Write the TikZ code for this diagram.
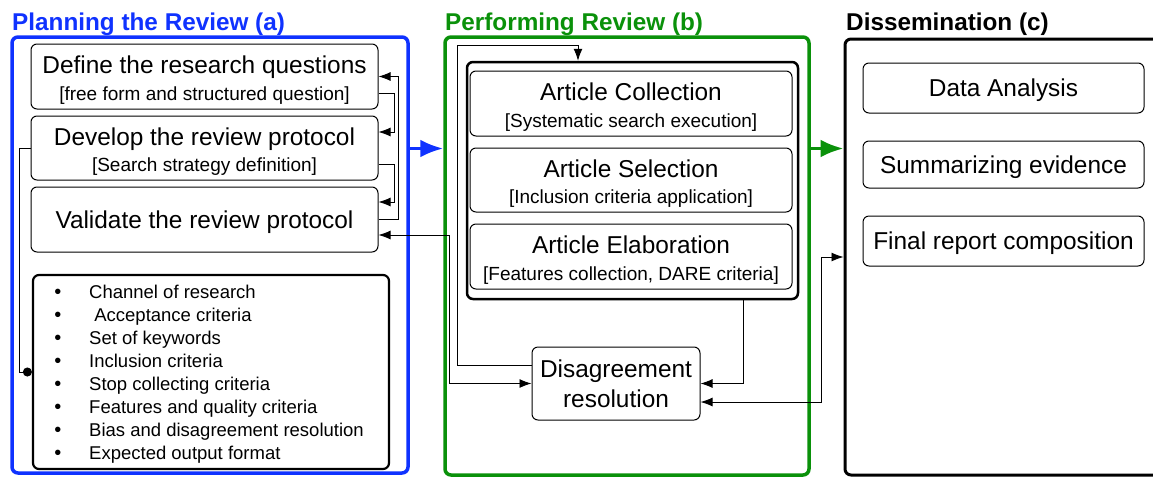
\documentclass[tikz,border=0pt]{standalone}
\usepackage{fontspec}
\setmainfont{Liberation Sans}
\usetikzlibrary{arrows.meta,calc}

\definecolor{planblue}{RGB}{15,50,255}
\definecolor{perfgreen}{RGB}{10,145,10}
\newcommand{\subline}[1]{{\fontsize{19}{22}\selectfont #1}}

\begin{document}
\begin{tikzpicture}
	[x=1pt,y=-1pt,>={Latex[length=12pt,width=9pt]},
	 every node/.style={inner sep=0pt,align=center,font=\fontsize{24.4}{26.5}\selectfont},
	 phase/.style={draw,rounded corners=6pt,line width=3.5pt},
	 stepbox/.style={draw,rounded corners=6pt,line width=1pt},
	 oneline/.style={text height=17pt,text depth=0pt},
	 twoline/.style={text height=51pt,text depth=4pt},
	 title/.style={anchor=base west,font=\bfseries\fontsize{24.3}{26}\selectfont},
	 flow/.style={line width=0.9pt},
	 big/.style={line width=3.5pt,-{Latex[length=23pt,width=18pt]}}]
	\useasboundingbox (0,0) rectangle (1153,477);
	% phases
	\node[phase,draw=planblue,minimum width=396,minimum height=436] (a) at (210,255) {};
	\node[phase,draw=perfgreen,minimum width=364,minimum height=438] (b) at (627,256) {};
	\node[phase,line width=3pt,minimum width=320,minimum height=436] (c) at (1005,257) {};
	\node[title,text=planblue] (ta) at (12,30) {Planning the Review (a)};
	\node[title,text=perfgreen] (tb) at (445,30) {Performing Review (b)};
	\node[title] (tc) at (846,30) {Dissemination (c)};
	
	% planning
	\node[stepbox,twoline,minimum width=347,minimum height=65] (p1) at (204.5,76.5) {Define the research questions\\ \subline{[free form and structured question]}};
	\node[stepbox,twoline,minimum width=347,minimum height=64] (p2) at (204.5,148) {Develop the review protocol\\ \subline{[Search strategy definition]}};
	\node[stepbox,oneline,minimum width=347,minimum height=65] (p3) at (204.5,219.5) {Validate the review protocol};
	\node[stepbox,line width=2.2pt,minimum width=356,minimum height=194] (kw) at (211,372) {};
	\foreach \t [count=\i] in {Channel of research,\ Acceptance criteria,Set of keywords,Inclusion criteria,Stop collecting criteria,Features and quality criteria,Bias and disagreement resolution,Expected output format}
	{
	\node[anchor=base west,font=\fontsize{18.5}{20}\selectfont] (kw\i) at (89,{275+23*\i}) {\t};
	\node[anchor=base,font=\fontsize{20}{20}\selectfont] (kb\i) at (58,{275+23*\i}) {•};
	}
	
	% performing
	\node[stepbox,line width=2.5pt,minimum width=331,minimum height=237] (art) at (632.5,180.5) {};
	\node[stepbox,twoline,minimum width=322,minimum height=65] (r1) at (631,103.5) {Article Collection\\ \subline{[Systematic search execution]}};
	\node[stepbox,twoline,minimum width=322,minimum height=64] (r2) at (631,180) {Article Selection\\ \subline{[Inclusion criteria application]}};
	\node[stepbox,twoline,minimum width=322,minimum height=65] (r3) at (631,256.5) {Article Elaboration\\ \subline{[Features collection, DARE criteria]}};
	\node[stepbox,minimum width=168,minimum height=73,font=\fontsize{24.4}{30}\selectfont] (d) at (616,383.5) {Disagreement\\resolution};
	
	% dissemination
	\node[stepbox,oneline,minimum width=281,minimum height=50] (s1) at (1003.5,88) {Data Analysis};
	\node[stepbox,oneline,minimum width=281,minimum height=47] (s2) at (1003.5,164.5) {Summarizing evidence};
	\node[stepbox,oneline,minimum width=281,minimum height=50] (s3) at (1003.5,241) {Final report composition};
	
	\draw[flow,->] ($(p1.east)+(0,16.5)$) -- ++(16,0) |- ($(p2.east)+(0,-16)$);
	\draw[flow,->] ($(p2.east)+(0,16)$) -- ++(16,0) |- ($(p3.east)+(0,-17.5)$);
	\draw[flow,->] (p3.east) -- ++(20,0) |- (p1.east);
	\draw[flow,-{Circle[length=9pt]}] (p2.west) -- ++(-11,0) |- (kw.west);
	\draw[flow,<->] ($(p3.east)+(0,15.5)$) -| ($(d.west)+(-82,0)$) -- (d.west);
	\draw[flow,->] ($(d.west)+(0,-18.5)$) -- ++(-74,0) |- ($(art.north)+(-54.5,-15)$) -- ($(art.north)+(-54.5,0)$);
	\draw[flow,->] ($(art.south)+(110.5,0)$) |- (d.east);
	\draw[flow,<->] ($(d.east)+(0,18.5)$) -| ($(c.west)+(-22,0)$) -- (c.west);
	\draw[big,planblue] ($(a.east)+(0,-106.5)$) -- ($(b.west)+(0,-107.5)$);
	\draw[big,perfgreen] ($(b.east)+(0,-107.5)$) -- ($(c.west)+(0,-108.5)$);
\end{tikzpicture}
\end{document}
